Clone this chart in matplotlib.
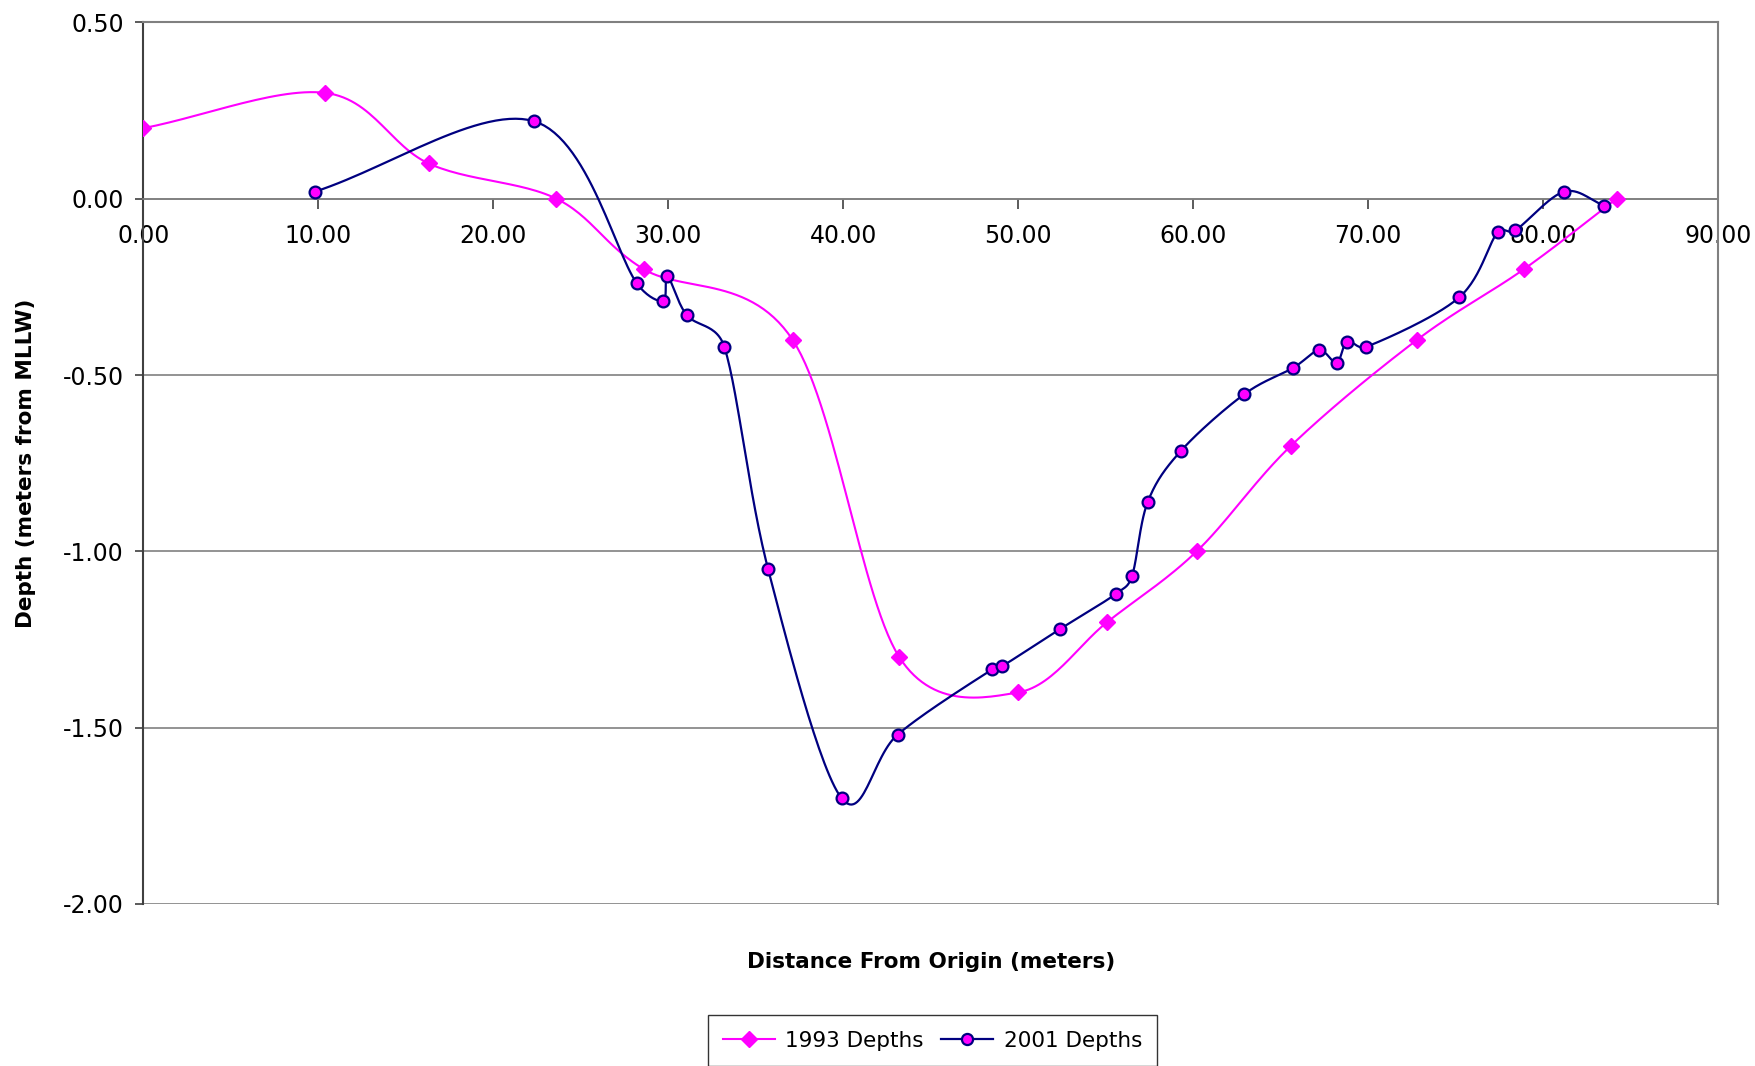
import numpy as np
import matplotlib
matplotlib.use("Agg")
import matplotlib.pyplot as plt
from matplotlib.ticker import FormatStrFormatter, MultipleLocator

# 1993 survey (diamonds)
dist_1993 = [0.0, 10.4, 16.3, 23.6, 28.6, 37.1, 43.2, 50.0, 55.1, 60.2, 65.6, 72.8, 78.9, 84.2]
depth_1993 = [0.20, 0.30, 0.10, 0.00, -0.20, -0.40, -1.30, -1.40, -1.20, -1.00, -0.70, -0.40, -0.20, 0.00]

# 2001 survey (circles)
dist_2001 = [9.8, 22.3, 28.2, 29.7, 29.95, 31.05, 33.2, 35.7, 39.9, 43.1, 48.5, 49.1,
             52.4, 55.6, 56.5, 57.4, 59.3, 62.9, 65.7, 67.2, 68.2, 68.8, 69.9, 75.2,
             77.4, 78.4, 81.2, 83.5]
depth_2001 = [0.02, 0.22, -0.24, -0.29, -0.22, -0.33, -0.42, -1.05, -1.70, -1.52, -1.335, -1.325,
              -1.22, -1.12, -1.07, -0.86, -0.715, -0.555, -0.48, -0.43, -0.465, -0.405, -0.42, -0.28,
              -0.095, -0.09, 0.02, -0.02]

magenta = "#FF00FF"
navy = "#000080"
grid_col = "#808080"


def smooth(ax, xs, ys, n=30):
    """Excel style smoothed line. Works in screen coordinates: bezier
    through the points, control points from the neighbours, with the
    tangent shortened when the neighbouring segments are much longer."""
    p = ax.transData.transform(np.column_stack([xs, ys]))
    t = np.linspace(0, 1, n)[1:, None]
    pts = [p[0]]
    for i in range(len(p) - 1):
        p1, p2 = p[i], p[i + 1]
        p0 = p[i - 1] if i > 0 else p1
        p3 = p[i + 2] if i + 2 < len(p) else p2
        d02 = np.hypot(*(p2 - p0))
        d12 = np.hypot(*(p2 - p1))
        d13 = np.hypot(*(p3 - p1))
        f = 1 / 6.0 if i > 0 else 1 / 3.0
        g = 1 / 6.0 if i + 2 < len(p) else 1 / 3.0
        if d02 / 6.0 >= d12 / 2.0 and d02 > 0:
            f = d12 / d02 / 2.0
        if d13 / 6.0 >= d12 / 2.0 and d13 > 0:
            g = d12 / d13 / 2.0
        c1 = p1 + f * (p2 - p0)
        c2 = p2 - g * (p3 - p1)
        seg = ((1 - t) ** 3) * p1 + 3 * ((1 - t) ** 2) * t * c1 + 3 * (1 - t) * t ** 2 * c2 + t ** 3 * p2
        pts.extend(seg)
    pts = ax.transData.inverted().transform(np.array(pts))
    return pts[:, 0], pts[:, 1]


plt.rcParams['font.family'] = ['DejaVu Sans']
fig = plt.figure(figsize=(17.56, 10.66), dpi=100)
ax = fig.add_axes([0.0817, 0.152, 0.8967, 0.827])
ax.set_xlim(0, 90)
ax.set_ylim(-2.0, 0.5)

sx, sy = smooth(ax, dist_1993, depth_1993)
ax.plot(sx, sy, color=magenta, lw=1.5, zorder=3)
ax.plot(dist_1993, depth_1993, ls="none", marker="D", ms=8, color=magenta,
        mec=magenta, zorder=4)

sx, sy = smooth(ax, dist_2001, depth_2001)
ax.plot(sx, sy, color=navy, lw=1.6, zorder=5)
ax.plot(dist_2001, depth_2001, ls="none", marker="o", ms=8.5, mfc=magenta,
        mec=navy, mew=1.6, zorder=6)

ax.set_xlim(0, 90)
ax.set_ylim(-2.0, 0.5)
ax.xaxis.set_major_locator(MultipleLocator(10))
ax.yaxis.set_major_locator(MultipleLocator(0.5))
ax.xaxis.set_major_formatter(FormatStrFormatter('%.2f'))
ax.yaxis.set_major_formatter(FormatStrFormatter('%.2f'))

ax.grid(axis='y', color=grid_col, lw=1.2, zorder=0)
ax.spines['bottom'].set_position(('data', 0))
ax.spines['bottom'].set_color(grid_col)
ax.spines['bottom'].set_linewidth(1.2)
ax.spines['left'].set_color("#404040")
ax.spines['left'].set_linewidth(1.5)
for s in ['top', 'right']:
    ax.spines[s].set_color(grid_col)
    ax.spines[s].set_linewidth(1.5)

ax.tick_params(axis='x', direction='out', length=7, width=1.2, color="#404040",
               labelsize=17, pad=11)
ax.tick_params(axis='y', direction='out', length=6, width=1.2, color="#404040",
               labelsize=17, pad=8)

ax.set_xlabel("Distance From Origin (meters)", fontsize=15.5, fontweight='bold')
ax.xaxis.set_label_coords(0.5, -0.055)
ax.set_ylabel("Depth (meters from MLLW)", fontsize=15.5, fontweight='bold')
ax.yaxis.set_label_coords(-0.068, 0.5)

h1, = ax.plot([], [], color=magenta, lw=1.5, marker="D", ms=8, mec=magenta)
h2, = ax.plot([], [], color=navy, lw=1.6, marker="o", ms=8, mfc=magenta, mec=navy, mew=1.6)
leg = fig.legend([h1, h2], ["1993 Depths", "2001 Depths"], loc='upper center',
                 bbox_to_anchor=(0.531, 0.0575), ncol=2, fontsize=15.5, frameon=True,
                 fancybox=False, edgecolor='black', numpoints=1, handlelength=2.4,
                 columnspacing=0.8, handletextpad=0.5, borderpad=0.7)
leg.get_frame().set_linewidth(1.0)

fig.savefig("out.png", dpi=100)
